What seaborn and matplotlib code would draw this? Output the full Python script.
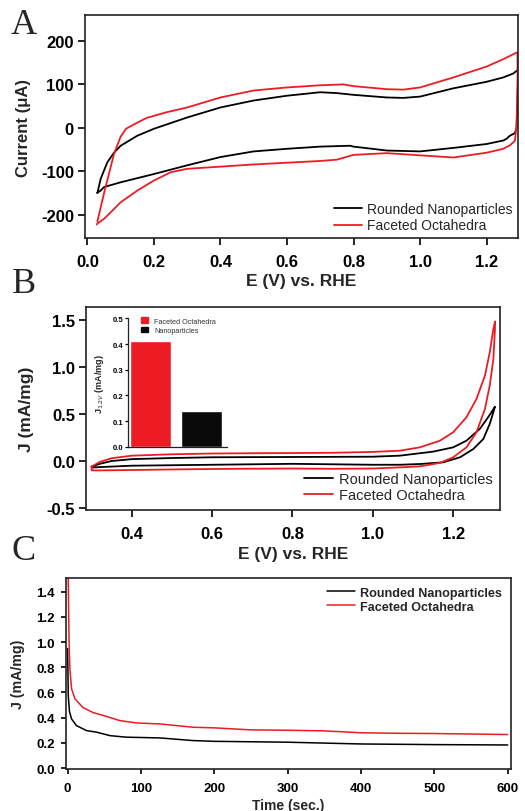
import numpy as np
import pandas as pd
import matplotlib
matplotlib.use("Agg")
import matplotlib.pyplot as plt
import seaborn as sns

# ---------------- data ----------------
# Panel A: cyclic voltammograms, current in microamps
E_a_round = [0.03, 0.04, 0.06, 0.08, 0.10, 0.15, 0.20, 0.30, 0.40, 0.50, 0.60, 0.70, 0.75, 0.80,
             0.90, 0.95, 1.00, 1.10, 1.20, 1.25, 1.28, 1.295, 1.293, 1.29, 1.285, 1.27, 1.26,
             1.25, 1.20, 1.10, 1.00, 0.90, 0.80, 0.79, 0.70, 0.60, 0.50, 0.40, 0.30, 0.20,
             0.10, 0.05, 0.04, 0.03]
I_a_round = [-150, -117, -79, -57, -41, -18, -2, 24, 47, 63, 74, 82, 80, 76,
             70, 69, 72, 91, 106, 116, 125, 134, 60, 0, -12, -18, -25,
             -29, -37, -46, -54, -52, -43, -41, -43, -48, -54, -67, -86, -106,
             -125, -136, -144, -149]
E_a_facet = [0.03, 0.05, 0.08, 0.10, 0.116, 0.15, 0.178, 0.238, 0.30, 0.40, 0.50, 0.60, 0.70,
             0.77, 0.80, 0.90, 0.95, 1.00, 1.10, 1.20, 1.25, 1.293, 1.293, 1.29, 1.285, 1.27,
             1.25, 1.20, 1.10, 1.00, 0.90, 0.80, 0.75, 0.70, 0.60, 0.50, 0.40, 0.30, 0.25,
             0.20, 0.15, 0.10, 0.07, 0.05, 0.03, 0.028]
I_a_facet = [-215, -150, -60, -20, -2, 12, 23, 36, 47, 70, 86, 93, 98,
             100, 96, 89, 88, 93, 116, 141, 158, 174, 100, 5, -30, -40,
             -48, -57, -68, -63, -58, -62, -73, -76, -80, -84, -89, -94, -102,
             -121, -144, -171, -194, -209, -220, -222]

# Panel B: normalised CVs, J in mA/mg
E_b_round = [0.30, 0.32, 0.35, 0.40, 0.50, 0.60, 0.80, 1.00, 1.067, 1.15, 1.20, 1.233, 1.266,
             1.287, 1.304, 1.302, 1.291, 1.275, 1.25, 1.217, 1.175, 1.117, 1.067, 1.00, 0.80,
             0.60, 0.40, 0.32, 0.30, 0.30]
J_b_round = [-0.06, -0.03, 0.00, 0.02, 0.032, 0.04, 0.043, 0.046, 0.057, 0.10, 0.146, 0.217, 0.342,
             0.467, 0.58, 0.55, 0.396, 0.235, 0.128, 0.04, -0.014, -0.032, -0.04, -0.04, -0.03,
             -0.04, -0.05, -0.065, -0.07, -0.06]
E_b_facet = [0.30, 0.32, 0.35, 0.40, 0.50, 0.60, 0.70, 0.80, 0.90, 1.00, 1.067, 1.117, 1.167,
             1.20, 1.233, 1.258, 1.279, 1.291, 1.30, 1.304, 1.304, 1.30, 1.291, 1.279, 1.258,
             1.233, 1.20, 1.167, 1.117, 1.067, 1.00, 0.90, 0.80, 0.70, 0.60, 0.50, 0.40, 0.32,
             0.30, 0.30]
J_b_facet = [-0.06, -0.01, 0.03, 0.057, 0.072, 0.08, 0.083, 0.085, 0.088, 0.097, 0.11, 0.146, 0.217,
             0.307, 0.467, 0.663, 0.912, 1.16, 1.41, 1.49, 1.41, 1.09, 0.805, 0.556, 0.307,
             0.146, 0.04, -0.02, -0.057, -0.068, -0.08, -0.083, -0.08, -0.082, -0.085, -0.09,
             -0.096, -0.10, -0.10, -0.06]

# Inset: current density at 1.2 V
inset_labels = ["Faceted Octahedra", "Nanoparticles"]
inset_values = [0.41, 0.14]

# Panel C: chronoamperometry
t_facet = [0, 0.8, 2, 3.1, 5.4, 10, 21, 35, 49, 71, 94, 126, 171, 200, 250, 300, 350, 400,
           450, 500, 550, 600]
J_c_facet = [1.55, 1.51, 1.0, 0.79, 0.63, 0.55, 0.48, 0.44, 0.417, 0.377, 0.358, 0.35, 0.324,
             0.319, 0.303, 0.300, 0.295, 0.28, 0.276, 0.274, 0.27, 0.266]
t_round = [0, 0.9, 2.5, 5.4, 12, 26, 40, 58, 80, 126, 171, 200, 300, 400, 500, 600]
J_c_round = [0.95, 0.576, 0.45, 0.39, 0.337, 0.297, 0.284, 0.257, 0.245, 0.239, 0.218, 0.212,
             0.205, 0.191, 0.186, 0.183]

series_names = ["Rounded Nanoparticles", "Faceted Octahedra"]
RED = "#ED1C24"
BLACK = "#000000"

# ---------------- style ----------------
sns.set_theme(style="ticks")
plt.rcParams["font.family"] = ["Liberation Sans", "DejaVu Sans"]
plt.rcParams["axes.unicode_minus"] = False
plt.rcParams["axes.linewidth"] = 1.2
plt.rcParams["xtick.major.width"] = 1.2
plt.rcParams["ytick.major.width"] = 1.2
plt.rcParams["xtick.color"] = "black"
plt.rcParams["ytick.color"] = "black"
plt.rcParams["axes.edgecolor"] = "#222222"

fig = plt.figure(figsize=(5.25, 8.12), dpi=100)


def loop_frame(E, J, name):
    return pd.DataFrame({"E": E, "J": J, "sample": name})


def style_box(ax, tick_size, xlen, xpad, ylen, ypad):
    for sp in ax.spines.values():
        sp.set_visible(True)
        sp.set_color("#222222")
    ax.tick_params(axis="x", direction="out", labelsize=tick_size, length=xlen, pad=xpad,
                   top=False)
    ax.tick_params(axis="y", direction="out", labelsize=tick_size, length=ylen, pad=ypad,
                   right=False)
    for lab in ax.get_xticklabels() + ax.get_yticklabels():
        lab.set_fontweight("bold")


# ---------------- Panel A ----------------
axA = fig.add_axes([0.162, 0.7057, 0.825, 0.2743])
dfA = pd.concat([loop_frame(E_a_round, I_a_round, series_names[0]),
                 loop_frame(E_a_facet, I_a_facet, series_names[1])])
sns.lineplot(data=dfA, x="E", y="J", hue="sample", sort=False, estimator=None,
             palette=[BLACK, RED], linewidth=1.3, ax=axA)
axA.set_xlim(-0.007, 1.295)
axA.set_ylim(-253, 259)
axA.set_xticks(np.arange(0, 1.21, 0.2))
axA.set_xticklabels([f"{v:.1f}" for v in np.arange(0, 1.21, 0.2)])
axA.set_yticks([-200, -100, 0, 100, 200])
style_box(axA, 12, 5, 6.5, 5, 3)
axA.set_xlabel("E (V) vs. RHE", fontsize=12.5, fontweight="bold", labelpad=3)
axA.set_ylabel("Current (\u03bcA)", fontsize=12, fontweight="bold", labelpad=7)
axA.legend(loc="lower right", frameon=False, fontsize=10, handlelength=2.0,
           handletextpad=0.4, labelspacing=0.15, borderaxespad=0.0)

# ---------------- Panel B ----------------
axB = fig.add_axes([0.1638, 0.371, 0.7882, 0.2493])
dfB = pd.concat([loop_frame(E_b_round, J_b_round, series_names[0]),
                 loop_frame(E_b_facet, J_b_facet, series_names[1])])
sns.lineplot(data=dfB, x="E", y="J", hue="sample", sort=False, estimator=None,
             palette=[BLACK, RED], linewidth=1.3, ax=axB)
axB.set_xlim(0.286, 1.316)
axB.set_ylim(-0.52, 1.64)
axB.set_xticks([0.4, 0.6, 0.8, 1.0, 1.2])
axB.set_xticklabels(["0.4", "0.6", "0.8", "1.0", "1.2"])
axB.set_yticks([-0.5, 0.0, 0.5, 1.0, 1.5])
axB.set_yticklabels(["-0.5", "0.0", "0.5", "1.0", "1.5"])
style_box(axB, 12, 5, 6.5, 5, 3)
axB.set_xlabel("E (V) vs. RHE", fontsize=12.5, fontweight="bold", labelpad=4)
axB.set_ylabel("J (mA/mg)", fontsize=12.5, fontweight="bold", labelpad=9)
axB.legend(loc="lower right", frameon=False, fontsize=10.5, handlelength=2.0,
           handletextpad=0.4, labelspacing=0.15, borderaxespad=0.1)

# Inset bar chart
axI = fig.add_axes([0.2444, 0.4483, 0.1874, 0.1585])
dfI = pd.DataFrame({"sample": inset_labels, "J": inset_values})
sns.barplot(data=dfI, x="sample", y="J", hue="sample", palette=[RED, "#0a0a0a"],
            width=0.81, legend=False, ax=axI, saturation=1)
axI.set_xlim(-0.43, 1.5)
axI.set_ylim(0, 0.5)
axI.set_yticks([0.0, 0.1, 0.2, 0.3, 0.4, 0.5])
axI.set_yticklabels(["0.0", "0.1", "0.2", "0.3", "0.4", "0.5"])
axI.set_xticks([])
axI.set_xlabel("")
axI.set_ylabel("J$_{1.2V}$ (mA/mg)", fontsize=6.5, fontweight="bold", labelpad=5)
axI.patch.set_alpha(0)
for side in ["top", "right"]:
    axI.spines[side].set_visible(False)
for side in ["left", "bottom"]:
    axI.spines[side].set_linewidth(0.9)
axI.tick_params(axis="y", labelsize=5.5, width=0.9, length=2.5, pad=1)
for lab in axI.get_yticklabels():
    lab.set_fontweight("bold")
handles = [plt.Rectangle((0, 0), 1, 1, color=RED), plt.Rectangle((0, 0), 1, 1, color="#0a0a0a")]
legI = axI.legend(handles, inset_labels, loc="upper left", bbox_to_anchor=(0.10, 1.03),
                  frameon=False, fontsize=5.2, handlelength=1.0, handleheight=0.8,
                  handletextpad=0.8, labelspacing=0.3, borderaxespad=0.0)
for txt in legI.get_texts():
    txt.set_color("#333333")

# ---------------- Panel C ----------------
axC = fig.add_axes([0.125, 0.0517, 0.8483, 0.2353])
dfC = pd.concat([pd.DataFrame({"t": t_round, "J": J_c_round, "sample": series_names[0]}),
                 pd.DataFrame({"t": t_facet, "J": J_c_facet, "sample": series_names[1]})])
sns.lineplot(data=dfC, x="t", y="J", hue="sample", sort=False, estimator=None,
             palette=[BLACK, RED], linewidth=1.1, ax=axC)
axC.set_xlim(-2.7, 604.5)
axC.set_ylim(-0.008, 1.51)
axC.set_xticks([0, 100, 200, 300, 400, 500, 600])
axC.set_yticks(np.arange(0, 1.41, 0.2))
axC.set_yticklabels([f"{v:.1f}" for v in np.arange(0, 1.41, 0.2)])
style_box(axC, 9.5, 3.6, 5.5, 3.6, 4)
axC.set_xlabel("Time (sec.)", fontsize=10, fontweight="bold", labelpad=3)
axC.set_ylabel("J (mA/mg)", fontsize=10.2, fontweight="bold", labelpad=8)
legC = axC.legend(loc="upper right", frameon=False, fontsize=9.1, handlelength=2.2,
                  handletextpad=0.4, labelspacing=0.15, borderaxespad=0.3)
for txt in legC.get_texts():
    txt.set_fontweight("bold")

# Panel letters
for letter, ypix in [("A", 25), ("B", 285), ("C", 551)]:
    fig.text(24 / 525, 1 - ypix / 812, letter, fontsize=26, family="Liberation Serif",
             ha="center", va="center")

fig.savefig("out.png", dpi=100)
